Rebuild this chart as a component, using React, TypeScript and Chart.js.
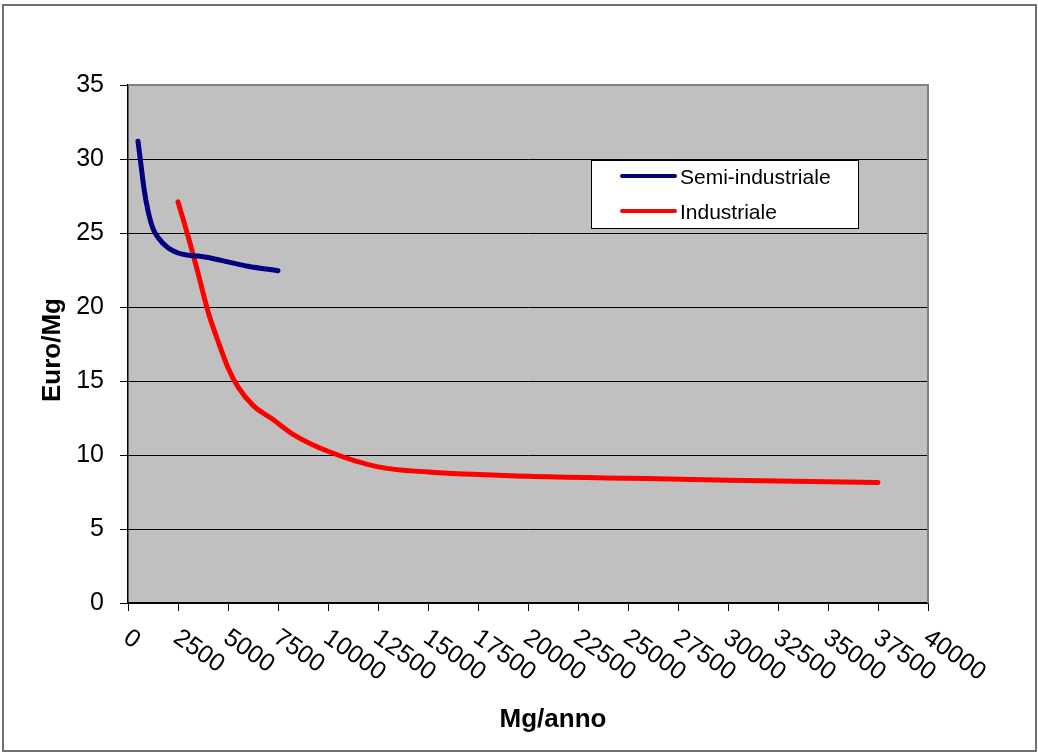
import React, { useEffect, useRef } from "react";
import { Chart, registerables } from "chart.js";

Chart.register(...registerables);

// Annual throughput (Mg/anno) vs. unit cost (Euro/Mg)
const semiX = [500, 650, 800, 1000, 1250, 1500, 2000, 2500, 3000, 3500, 4000, 5000, 6000, 7500];
const semiY = [31.2, 29.6, 28.0, 26.5, 25.3, 24.7, 24.0, 23.65, 23.5, 23.45, 23.35, 23.05, 22.75, 22.45];

const indX = [2500, 3000, 3500, 4000, 4500, 5000, 5500, 6250, 7250, 8250, 10000, 12500, 15000, 20000, 25000, 30000, 37500];
const indY = [27.1, 24.8, 22.3, 19.7, 17.7, 15.9, 14.6, 13.35, 12.4, 11.4, 10.25, 9.2, 8.85, 8.57, 8.43, 8.3, 8.15];

const seriesNames = ["Semi-industriale", "Industriale"];
const seriesColors = ["#000080", "#FF0000"];

const xTicks = [0, 2500, 5000, 7500, 10000, 12500, 15000, 17500, 20000, 22500, 25000, 27500, 30000, 32500, 35000, 37500, 40000];
const yTicks = [0, 5, 10, 15, 20, 25, 30, 35];

const xTitle = "Mg/anno";
const yTitle = "Euro/Mg";

const FONT = "'Liberation Sans', Arial, sans-serif";

const toPoints = (xs: number[], ys: number[]) => xs.map((x, i) => ({ x, y: ys[i] }));

const decorPlugin = {
  id: "decor",
  beforeDraw(chart: any) {
    const { ctx, chartArea: a, width, height } = chart;
    ctx.save();
    ctx.fillStyle = "#FFFFFF";
    ctx.fillRect(0, 0, width, height);
    ctx.fillStyle = "#C0C0C0";
    ctx.fillRect(a.left, a.top, a.right - a.left, a.bottom - a.top);
    ctx.restore();
  },
  afterDraw(chart: any) {
    const { ctx, chartArea: a } = chart;
    const xs = chart.scales.x;
    ctx.save();

    // plot frame (top and right edges)
    ctx.strokeStyle = "#808080";
    ctx.lineWidth = 2;
    ctx.beginPath();
    ctx.moveTo(a.left, a.top);
    ctx.lineTo(a.right, a.top);
    ctx.lineTo(a.right, a.bottom);
    ctx.stroke();

    // outer chart border
    ctx.strokeStyle = "#707070";
    ctx.lineWidth = 2;
    ctx.strokeRect(3, 5, 1033, 746);

    // slanted x tick labels
    ctx.fillStyle = "#000";
    ctx.font = `25px ${FONT}`;
    ctx.textAlign = "left";
    ctx.textBaseline = "alphabetic";
    const ang = (35 * Math.PI) / 180;
    xTicks.forEach((v) => {
      const px = xs.getPixelForValue(v);
      ctx.save();
      ctx.translate(px - 6, a.bottom + 38);
      ctx.rotate(ang);
      ctx.fillText(String(v), 0, 0);
      ctx.restore();
    });

    // axis titles
    ctx.font = `bold 26px ${FONT}`;
    ctx.textAlign = "center";
    ctx.fillText(xTitle, 553, 727);
    ctx.save();
    ctx.translate(60, 350);
    ctx.rotate(-Math.PI / 2);
    ctx.fillText(yTitle, 0, 0);
    ctx.restore();

    // legend box
    const lx = 591, ly = 160, lw = 267, lh = 68;
    ctx.fillStyle = "#FFFFFF";
    ctx.fillRect(lx, ly, lw, lh);
    ctx.strokeStyle = "#000";
    ctx.lineWidth = 1;
    ctx.strokeRect(lx + 0.5, ly + 0.5, lw, lh);
    const rows = [176, 211];
    chart.data.datasets.forEach((ds: any, i: number) => {
      ctx.strokeStyle = ds.borderColor;
      ctx.lineWidth = 4;
      ctx.lineCap = "round";
      ctx.beginPath();
      ctx.moveTo(622, rows[i]);
      ctx.lineTo(675, rows[i]);
      ctx.stroke();
      ctx.fillStyle = "#000";
      ctx.font = `21px ${FONT}`;
      ctx.textAlign = "left";
      ctx.fillText(ds.label, 680, rows[i] + 8);
    });
    ctx.restore();
  },
};

export default function App() {
  const ref = useRef<HTMLCanvasElement | null>(null);

  useEffect(() => {
    if (!ref.current) return;
    const chart = new Chart(ref.current, {
      type: "line",
      data: {
        datasets: [
          {
            label: seriesNames[0],
            data: toPoints(semiX, semiY),
            borderColor: seriesColors[0],
            backgroundColor: seriesColors[0],
            borderWidth: 5,
            borderCapStyle: "round",
            borderJoinStyle: "round",
            pointRadius: 0,
            cubicInterpolationMode: "monotone",
            fill: false,
          },
          {
            label: seriesNames[1],
            data: toPoints(indX, indY),
            borderColor: seriesColors[1],
            backgroundColor: seriesColors[1],
            borderWidth: 5,
            borderCapStyle: "round",
            borderJoinStyle: "round",
            pointRadius: 0,
            cubicInterpolationMode: "monotone",
            fill: false,
          },
        ],
      },
      options: {
        animation: false,
        responsive: false,
        devicePixelRatio: 1,
        layout: { padding: { left: 0, top: 85, right: 110, bottom: 0 } },
        plugins: {
          legend: { display: false },
          tooltip: { enabled: false },
        },
        scales: {
          x: {
            type: "linear",
            min: 0,
            max: 40000,
            afterBuildTicks: (s: any) => {
              s.ticks = xTicks.map((v) => ({ value: v }));
            },
            afterFit: (s: any) => {
              s.height = 150;
            },
            ticks: {
              autoSkip: false,
              maxRotation: 0,
              minRotation: 0,
              color: "rgba(0,0,0,0)",
              font: { size: 10 },
            },
            grid: {
              drawOnChartArea: false,
              drawTicks: true,
              tickLength: 8,
              tickColor: "#000",
              tickWidth: 1,
            },
            border: { display: true, color: "#000", width: 1.5 },
          },
          y: {
            type: "linear",
            min: 0,
            max: 35,
            afterBuildTicks: (s: any) => {
              s.ticks = yTicks.map((v) => ({ value: v }));
            },
            afterFit: (s: any) => {
              s.width = 128;
            },
            ticks: {
              color: "#000",
              padding: 16,
              font: { family: FONT, size: 25 },
            },
            grid: {
              color: "#000",
              lineWidth: 1,
              drawTicks: true,
              tickLength: 8,
              tickColor: "#000",
            },
            border: { display: true, color: "#000", width: 1.5 },
          },
        },
      },
      plugins: [decorPlugin],
    });
    return () => chart.destroy();
  }, []);

  return (
    <div style={{ position: "fixed", left: 0, top: 0, width: 1038, height: 753, background: "#fff" }}>
      <canvas ref={ref} width={1038} height={753} style={{ display: "block", width: 1038, height: 753 }} />
    </div>
  );
}
